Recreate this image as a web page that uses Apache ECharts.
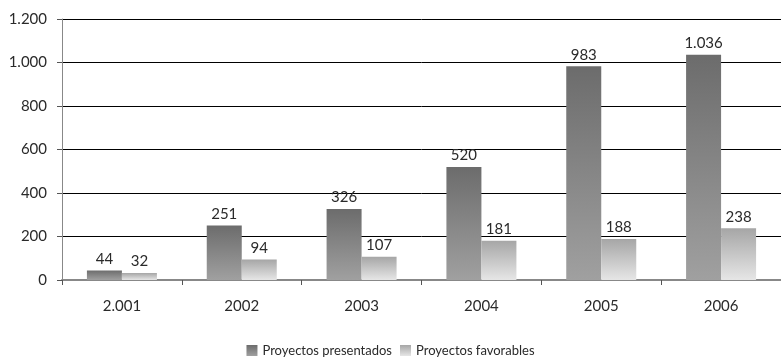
<!DOCTYPE html>
<html>
<head>
<meta charset="utf-8">
<script src="https://cdn.jsdelivr.net/npm/echarts@6/dist/echarts.min.js"></script>
<style>
html, body { margin: 0; padding: 0; background: #fff; }
#main { width: 781px; height: 363px; }
</style>
</head>
<body>
<div id="main"></div>
<script>
var years = ['2.001', '2002', '2003', '2004', '2005', '2006'];
var presentados = [44, 251, 326, 520, 983, 1036];
var favorables = [32, 94, 107, 181, 188, 238];
var yTicks = [0, 200, 400, 600, 800, 1000, 1200];

function fmt(v) {
    return String(v).replace(/\B(?=(\d{3})+(?!\d))/g, '.');
}

var myChart = echarts.init(document.getElementById('main'));
var labelStyle = { fontSize: 15, color: '#2a2a2a', fontWeight: 'normal' };
var option = {
    animation: false,
    textStyle: { fontFamily: 'Lato', color: '#333' },
    legend: {
        bottom: 1,
        left: 'center',
        itemWidth: 11,
        itemHeight: 11,
        itemGap: 8,
        icon: 'rect',
        textStyle: { fontSize: 13, color: '#2a2a2a' },
        data: ['Proyectos presentados', 'Proyectos favorables']
    },
    grid: {
        left: 62,
        right: 0,
        top: 19,
        bottom: 83
    },
    xAxis: [
        {
            type: 'category',
            data: years,
            axisLine: { lineStyle: { color: '#888', width: 2 } },
            axisTick: { show: true, length: 5, lineStyle: { color: '#555' } },
            axisLabel: Object.assign({ margin: 19 }, labelStyle)
        }
    ],
    yAxis: [
        {
            type: 'value',
            min: 0,
            max: yTicks[yTicks.length - 1],
            interval: 200,
            axisLine: { show: true, lineStyle: { color: '#888', width: 1 } },
            axisTick: { show: true, length: 5, lineStyle: { color: '#555' } },
            axisLabel: Object.assign({ margin: 15, formatter: fmt }, labelStyle),
            splitLine: { lineStyle: { color: '#000', width: 1 } }
        }
    ],
    series: [
        {
            name: 'Proyectos presentados',
            type: 'bar',
            barWidth: 35,
            barGap: '0%',
            itemStyle: {
                color: new echarts.graphic.LinearGradient(0, 0, 0, 1, [
                    { offset: 0, color: '#6c6c6c' },
                    { offset: 1, color: '#a0a0a0' }
                ])
            },
            label: Object.assign({ show: true, position: 'top', distance: 4, formatter: function (p) { return fmt(p.value); } }, labelStyle),
            data: presentados
        },
        {
            name: 'Proyectos favorables',
            type: 'bar',
            barWidth: 35,
            barGap: '0%',
            itemStyle: {
                color: new echarts.graphic.LinearGradient(0, 0, 0, 1, [
                    { offset: 0, color: '#a6a6a6' },
                    { offset: 1, color: '#e6e6e6' }
                ])
            },
            label: Object.assign({ show: true, position: 'top', distance: 4, formatter: function (p) { return fmt(p.value); } }, labelStyle),
            data: favorables
        }
    ]
};
myChart.setOption(option);
</script>
</body>
</html>
